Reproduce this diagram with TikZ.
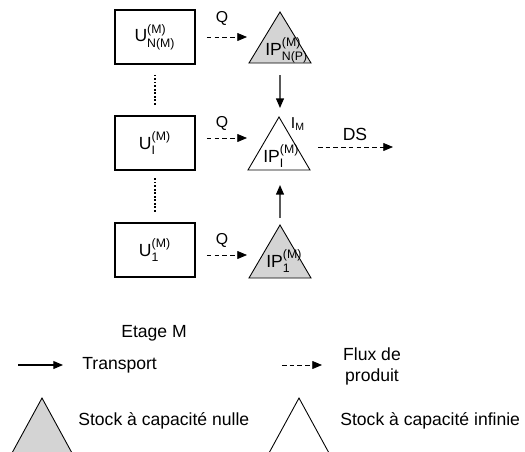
\documentclass[tikz,border=0pt]{standalone}
\usepackage{amsmath}
\usepackage{fontspec}
\setmainfont{Liberation Sans}
\usetikzlibrary{arrows.meta,positioning}
\definecolor{stockgray}{gray}{0.83}

\begin{document}
\begin{tikzpicture}[x=0.02cm,y=-0.02cm,
    ubox/.style={draw,line width=1pt,minimum width=1.6cm,minimum height=1.08cm,inner sep=0},
    iplab/.style={anchor=base west,inner sep=0},
    flux/.style={dashed,dash pattern=on 2.6pt off 1.8pt,-{Triangle[length=5.5pt,width=4.5pt]}},
    transp/.style={draw=gray!70!black,line width=0.8pt,-{Triangle[length=5.5pt,width=4.5pt,color=black]}},
    dotline/.style={line width=1.1pt,dash pattern=on 0.9pt off 1.1pt},
    stock0/.style={draw,line width=0.5pt,fill=stockgray},
    stockinf/.style={draw,line width=0.5pt,fill=white}]
  \useasboundingbox (0,0) rectangle (525,451);
  % units of stage M
  \node[ubox] (uN) at (155,37) {U$^{\text{(M)}}_{\text{N(M)}}$};
  \node[ubox] (uI) at (155,143) {U$^{\text{(M)}}_{\text{I}}$};
  \node[ubox] (u1) at (155,250) {U$^{\text{(M)}}_{\text{1}}$};
  \draw[dotline,shorten <=0.2cm,shorten >=0.2cm] (uN) -- (uI);
  \draw[dotline,shorten <=0.15cm,shorten >=0.2cm] (uI) -- (u1);
  % stocks
  \draw[stock0] (249,63) -- (280,12) -- (311,63) -- cycle;
  \draw[stockinf] (248,170) -- (279,117) -- (310,170) -- cycle;
  \draw[stock0] (249,278) -- (280,225) -- (311,278) -- cycle;
  \node[iplab] (ipN) at (265,55) {IP$^{\text{(M)}}_{\text{N(P)}}$};
  \node[iplab] (ipI) at (263,162) {IP$^{\text{(M)}}_{\text{I}}$};
  \node[iplab] (ip1) at (266,267) {IP$^{\text{(M)}}_{\text{1}}$};
  \node (im) at (298,124) {\small I$_{\text{M}}$};
  % product flows
  \coordinate (qN) at (247,37);
  \coordinate (qI) at (247,138);
  \coordinate (q1) at (247,255);
  \draw[flux,shorten <=0.22cm] (uN) -- (qN);
  \draw[flux,shorten <=0.22cm] (uI.east |- qI) -- (qI);
  \draw[flux,shorten <=0.22cm] (u1.east |- q1) -- (q1);
  \node (lqN) at (222,18) {\small Q};
  \node (lqI) at (222,123) {\small Q};
  \node (lq1) at (222,240) {\small Q};
  \coordinate (ds0) at (318,147);
  \coordinate (ds1) at (393,147);
  \draw[flux] (ds0) -- (ds1);
  \node (ds) at (355,134) {DS};
  % transport
  \coordinate (tN) at (280,75);
  \coordinate (tI) at (280,108);
  \coordinate (b1) at (280,218);
  \coordinate (bI) at (280,185);
  \draw[transp] (tN) -- (tI);
  \draw[transp] (b1) -- (bI);
  % legend
  \node (etage) at (154,333) {Etage M};
  \coordinate (lt0) at (18,365);
  \coordinate (lt1) at (63,365);
  \draw[line width=0.6pt,-{Triangle[length=5.5pt,width=4.5pt]}] (lt0) -- (lt1);
  \node[anchor=west,inner sep=0] (ltr) at (82,365) {Transport};
  \coordinate (lf0) at (282,365);
  \coordinate (lf1) at (322,365);
  \draw[flux] (lf0) -- (lf1);
  \node[align=center,inner sep=0] (lflux) at (372,366) {Flux de\\produit};
  \draw[stock0] (12,453) -- (42,398) -- (72,453) -- cycle;
  \node[anchor=west,inner sep=0] (lnul) at (78,421) {Stock à capacité nulle};
  \draw[stockinf] (269,453) -- (299,398) -- (329,453) -- cycle;
  \node[anchor=west,inner sep=0] (linf) at (340,421) {Stock à capacité infinie};
\end{tikzpicture}
\end{document}
